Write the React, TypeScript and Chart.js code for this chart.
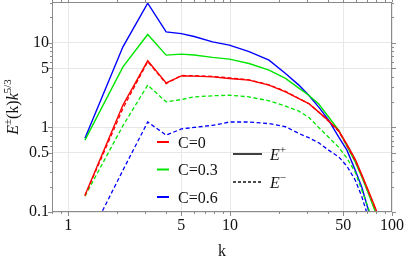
import React, { useEffect, useRef } from "react";
import { Chart, registerables } from "chart.js";

Chart.register(...registerables);

// ---- data ----
const kValues = [1.27, 2.18, 3.1, 4.03, 5, 6, 7.8, 9.9, 13.1, 17.4, 22, 26.6, 30.6, 35.3, 40.6, 46.8, 52.7, 59.3, 65.1, 71.5, 78.7, 85];

const ePlusC0 = [0.158, 1.84, 6.14, 3.37, 4.08, 4.05, 3.97, 3.8, 3.63, 3.17, 2.64, 2.19, 1.92, 1.52, 1.2, 0.92, 0.63, 0.42, 0.275, 0.178, 0.113, 0.075];
const ePlusC03 = [0.708, 5.21, 12.6, 7.17, 7.37, 7.2, 6.74, 6.43, 5.71, 4.76, 3.8, 2.92, 2.41, 1.89, 1.33, 0.929, 0.6, 0.39, 0.26, 0.165, 0.102, 0.066];
const ePlusC06 = [0.747, 8.99, 29.5, 13.5, 12.9, 11.9, 10.3, 9.42, 7.89, 6.25, 4.35, 3.17, 2.41, 1.74, 1.22, 0.774, 0.539, 0.312, 0.197, 0.105, 0.05, 0.03];

const eMinusC0 = [0.155, 1.68, 6.0, 3.3, 4.12, 4.1, 4.02, 3.86, 3.66, 3.2, 2.67, 2.2, 1.92, 1.52, 1.18, 0.9, 0.61, 0.405, 0.268, 0.174, 0.11, 0.072];
const eMinusC03 = [0.154, 1.05, 3.17, 2.01, 2.14, 2.3, 2.37, 2.41, 2.3, 2.07, 1.79, 1.56, 1.32, 1.0, 0.767, 0.585, 0.433, 0.296, 0.181, 0.111, 0.06, 0.04];
const eMinusC06 = [0.04, 0.312, 1.16, 0.811, 0.96, 1.0, 1.06, 1.16, 1.16, 1.11, 1.02, 0.849, 0.757, 0.658, 0.539, 0.45, 0.348, 0.238, 0.152, 0.085, 0.04, 0.03];

const seriesLabels = ["C=0", "C=0.3", "C=0.6"];
const componentLabels = ["+", "\u2212"];

const xMajorTicks = [1, 5, 10, 50, 100];
const yMajorTicks = [0.1, 0.5, 1, 5, 10];

const X_MIN = 0.795;
const X_MAX = 100;
const Y_MIN = 0.1;
const Y_MAX = 30.5;

// ---- styles ----
const COLORS = ["#ff0000", "#00e600", "#0000ff"];
const SERIF = '"Liberation Serif", "DejaVu Serif", serif';
const FRAME = "#8a8a8a";
const GRID = "#e8e8e8";

const xAllTicks: number[] = [0.8, 0.9];
for (const d of [1, 10]) for (let i = 1; i <= 9; i++) xAllTicks.push(i * d);
xAllTicks.push(100);

const yAllTicks: number[] = [];
for (let i = 1; i <= 9; i++) yAllTicks.push(i / 10);
for (let i = 1; i <= 9; i++) yAllTicks.push(i);
yAllTicks.push(10, 20, 30);

function pts(values: number[]) {
  return values.map((v, i) => ({ x: kValues[i], y: v }));
}

type Part = { t: string; italic?: boolean; size: number; dy?: number };

function drawParts(ctx: CanvasRenderingContext2D, parts: Part[], x: number, y: number, align: "left" | "center") {
  let total = 0;
  const widths = parts.map((p) => {
    ctx.font = `${p.italic ? "italic " : ""}${p.size}px ${SERIF}`;
    const w = ctx.measureText(p.t).width;
    total += w;
    return w;
  });
  let cx = align === "center" ? x - total / 2 : x;
  ctx.textBaseline = "alphabetic";
  ctx.textAlign = "left";
  parts.forEach((p, i) => {
    ctx.font = `${p.italic ? "italic " : ""}${p.size}px ${SERIF}`;
    ctx.fillText(p.t, cx, y + (p.dy || 0));
    cx += widths[i];
  });
}

const decorPlugin = {
  id: "decor",
  afterDraw(chart: any) {
    const ctx: CanvasRenderingContext2D = chart.ctx;
    const { left, right, top, bottom } = chart.chartArea;
    const xs = chart.scales.x;
    const ys = chart.scales.y;
    ctx.save();

    // frame
    ctx.strokeStyle = FRAME;
    ctx.lineWidth = 1;
    ctx.strokeRect(Math.round(left) + 0.5, Math.round(top) + 0.5, Math.round(right - left) - 1, Math.round(bottom - top) - 1);

    // ticks (outward, Mathematica style)
    ctx.beginPath();
    xAllTicks.forEach((v) => {
      if (v < X_MIN || v > X_MAX) return;
      const px = Math.round(xs.getPixelForValue(v)) + 0.5;
      const len = xMajorTicks.includes(v) ? 4 : 2;
      ctx.moveTo(px, bottom);
      ctx.lineTo(px, bottom + len);
      ctx.moveTo(px, top);
      ctx.lineTo(px, top - len);
    });
    yAllTicks.forEach((v) => {
      if (v < Y_MIN || v > Y_MAX) return;
      const py = Math.round(ys.getPixelForValue(v)) + 0.5;
      const len = yMajorTicks.includes(v) ? 4 : 2;
      ctx.moveTo(left, py);
      ctx.lineTo(left - len, py);
      ctx.moveTo(right, py);
      ctx.lineTo(right + len, py);
    });
    ctx.stroke();

    // legend: series colours
    ctx.fillStyle = "#111";
    seriesLabels.forEach((label, i) => {
      const y = top + 140 + 27.5 * i;
      ctx.strokeStyle = COLORS[i];
      ctx.lineWidth = 2;
      ctx.setLineDash([]);
      ctx.beginPath();
      ctx.moveTo(left + 105, y);
      ctx.lineTo(left + 117, y);
      ctx.stroke();
      drawParts(ctx, [{ t: label, size: 16 }], left + 126, y + 5.5, "left");
    });

    // legend: line styles
    componentLabels.forEach((sign, i) => {
      const y = top + 152 + 28 * i;
      ctx.strokeStyle = "#111";
      ctx.lineWidth = 1.6;
      ctx.setLineDash(i === 0 ? [] : [3, 2]);
      ctx.beginPath();
      ctx.moveTo(left + 181, y);
      ctx.lineTo(left + 210, y);
      ctx.stroke();
      ctx.setLineDash([]);
      drawParts(
        ctx,
        [
          { t: "E", italic: true, size: 16 },
          { t: sign, size: 11, dy: -7 },
        ],
        left + 218,
        y + 5.5,
        "left"
      );
    });

    // x-axis title
    ctx.fillStyle = "#111";
    drawParts(ctx, [{ t: "k", size: 16 }], (left + right) / 2, 256, "center");

    // y-axis title (rotated)
    ctx.save();
    ctx.translate(18, (top + bottom) / 2);
    ctx.rotate(-Math.PI / 2);
    drawParts(
      ctx,
      [
        { t: "E", italic: true, size: 16 },
        { t: "\u00b1", size: 11, dy: -7 },
        { t: "(k)", size: 16 },
        { t: "k", italic: true, size: 16 },
        { t: "5/3", size: 11, dy: -7 },
      ],
      0,
      0,
      "center"
    );
    ctx.restore();

    ctx.restore();
  },
};

export default function App() {
  const canvasRef = useRef<HTMLCanvasElement | null>(null);

  useEffect(() => {
    document.body.style.margin = "0";
    const canvas = canvasRef.current;
    if (!canvas) return;

    const plusSets = [ePlusC0, ePlusC03, ePlusC06];
    const minusSets = [eMinusC0, eMinusC03, eMinusC06];

    const datasets: any[] = [];
    minusSets.forEach((vals, i) => {
      datasets.push({
        label: `${seriesLabels[i]} E-`,
        data: pts(vals),
        borderColor: COLORS[i],
        borderWidth: 1.3,
        borderDash: [4, 2.5],
        pointRadius: 0,
        fill: false,
        tension: 0,
      });
    });
    plusSets.forEach((vals, i) => {
      datasets.push({
        label: `${seriesLabels[i]} E+`,
        data: pts(vals),
        borderColor: COLORS[i],
        borderWidth: 1.4,
        pointRadius: 0,
        fill: false,
        tension: 0,
      });
    });

    const chart = new Chart(canvas, {
      type: "line",
      data: { datasets },
      options: {
        animation: false,
        responsive: false,
        maintainAspectRatio: false,
        layout: { padding: { top: 2, right: 15, left: 0, bottom: 0 } },
        plugins: { legend: { display: false }, tooltip: { enabled: false } },
        scales: {
          x: {
            type: "logarithmic",
            min: X_MIN,
            max: X_MAX,
            afterBuildTicks: (s: any) => {
              s.ticks = xAllTicks.filter((v) => v >= X_MIN && v <= X_MAX).map((v) => ({ value: v }));
            },
            afterFit: (s: any) => {
              s.height = 49;
              s.paddingLeft = 0;
              s.paddingRight = 0;
            },
            ticks: {
              autoSkip: false,
              maxRotation: 0,
              minRotation: 0,
              padding: 4,
              color: "#111",
              font: { family: SERIF, size: 16 },
              callback: (v: any) => (xMajorTicks.includes(Number(v)) ? String(v) : ""),
            },
            grid: {
              drawTicks: false,
              color: (c: any) => (c.tick && xMajorTicks.includes(c.tick.value) ? GRID : "rgba(0,0,0,0)"),
            },
            border: { display: false },
          },
          y: {
            type: "logarithmic",
            min: Y_MIN,
            max: Y_MAX,
            afterBuildTicks: (s: any) => {
              s.ticks = yAllTicks.filter((v) => v >= Y_MIN && v <= Y_MAX).map((v) => ({ value: v }));
            },
            afterFit: (s: any) => {
              s.width = 52;
              s.paddingTop = 0;
              s.paddingBottom = 0;
            },
            ticks: {
              autoSkip: false,
              padding: 3,
              color: "#111",
              font: { family: SERIF, size: 16 },
              callback: (v: any) => (yMajorTicks.includes(Number(v)) ? String(v) : ""),
            },
            grid: {
              drawTicks: false,
              color: (c: any) => (c.tick && yMajorTicks.includes(c.tick.value) ? GRID : "rgba(0,0,0,0)"),
            },
            border: { display: false },
          },
        },
      },
      plugins: [decorPlugin],
    });

    return () => chart.destroy();
  }, []);

  return (
    <div style={{ width: 407, height: 261 }}>
      <canvas ref={canvasRef} width={407} height={261} />
    </div>
  );
}
